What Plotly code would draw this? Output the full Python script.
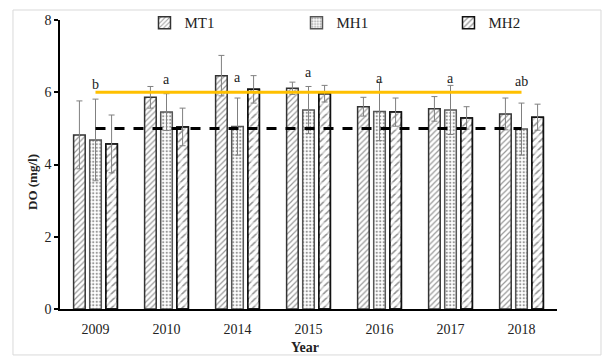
import plotly.graph_objects as go

# Dissolved oxygen by year and site
years = ["2009", "2010", "2014", "2015", "2016", "2017", "2018"]
mt1 = [4.82, 5.86, 6.46, 6.11, 5.60, 5.54, 5.40]
mt1_err = [0.94, 0.30, 0.56, 0.17, 0.26, 0.34, 0.44]
mh1 = [4.68, 5.45, 5.05, 5.51, 5.47, 5.51, 4.98]
mh1_err = [1.13, 0.51, 0.79, 0.65, 0.81, 0.68, 0.72]
mh2 = [4.57, 5.04, 6.08, 5.96, 5.45, 5.29, 5.31]
mh2_err = [0.80, 0.52, 0.38, 0.23, 0.39, 0.31, 0.36]

# Significance letters and where they sit (mg/l)
letters = ["b", "a", "a", "a", "a", "a", "ab"]
letter_y = [6.22, 6.34, 6.40, 6.54, 6.37, 6.37, 6.29]

standard_upper = 6
standard_lower = 5

SERIF = "Liberation Serif"
CLEAR = "rgba(0,0,0,0)"
ERR = dict(type="data", visible=True, color="#808080", thickness=1, width=3)

fig = go.Figure()

# MT1: dense forward hatching
fig.add_trace(go.Bar(
    name="MT1", x=years, y=mt1, offsetgroup="mt1",
    marker=dict(color="white",
                pattern=dict(shape="/", size=4, solidity=0.3, fgcolor="#333333", bgcolor="white"),
                line=dict(color="#333333", width=1.5)),
    error_y=dict(array=mt1_err, **ERR),
))

# MH1: fine dots
fig.add_trace(go.Bar(
    name="MH1", x=years, y=mh1, offsetgroup="mh1",
    marker=dict(color="white",
                pattern=dict(shape=".", size=3.5, solidity=0.35, fgcolor="#333333", bgcolor="white"),
                line=dict(color="#555555", width=1.5)),
    error_y=dict(array=mh1_err, **ERR),
))

# MH2: hatching broken into short dashes by white horizontal bands,
# then the outline and error bars on top
fig.add_trace(go.Bar(
    name="MH2", x=years, y=mh2, offsetgroup="mh2",
    marker=dict(color="white",
                pattern=dict(shape="/", size=5, solidity=0.3, fgcolor="#222222", bgcolor="white"),
                line=dict(color="#111111", width=1.5)),
))
fig.add_trace(go.Bar(
    name="MH2", x=years, y=mh2, offsetgroup="mh2", showlegend=False, hoverinfo="skip",
    marker=dict(color=CLEAR,
                pattern=dict(shape="-", size=8, solidity=0.45, fgcolor="white", bgcolor=CLEAR),
                line=dict(width=0)),
))
fig.add_trace(go.Bar(
    name="MH2", x=years, y=mh2, offsetgroup="mh2", showlegend=False,
    marker=dict(color=CLEAR, line=dict(color="#111111", width=1.5)),
    error_y=dict(array=mh2_err, **ERR),
))

fig.add_trace(go.Scatter(
    x=years, y=[standard_upper] * len(years), mode="lines",
    line=dict(color="#FFC000", width=3), showlegend=False, hoverinfo="skip"))
fig.add_trace(go.Scatter(
    x=years, y=[standard_lower] * len(years), mode="lines",
    line=dict(color="black", width=3, dash="10px,9px"), showlegend=False, hoverinfo="skip"))

# Category axis: annotations are placed by category index
for i, (txt, ly) in enumerate(zip(letters, letter_y)):
    fig.add_annotation(x=i, y=ly, text=txt, showarrow=False,
                       font=dict(family=SERIF, size=14, color="#222222"))

# Axis titles
fig.add_annotation(xref="paper", yref="paper", x=-0.054, y=0.44, text="<b>DO (mg/l)</b>",
                   textangle=-90, showarrow=False, xanchor="center", yanchor="middle",
                   font=dict(family=SERIF, size=13, color="#222222"))
fig.add_annotation(xref="paper", yref="paper", x=0.493, y=-0.1315, text="<b>Year</b>",
                   showarrow=False, xanchor="center", yanchor="middle",
                   font=dict(family=SERIF, size=14, color="#222222"))

# Light frame around the whole chart
fig.add_shape(type="rect", xref="paper", yref="paper",
              x0=-0.0946, x1=1.0885, y0=-0.159, y1=1.0346,
              line=dict(color="#d9d9d9", width=1), fillcolor=CLEAR, layer="below")

fig.update_layout(
    width=605, height=357,
    margin=dict(l=60, r=48, t=20, b=48, autoexpand=False),
    paper_bgcolor="white", plot_bgcolor="white",
    barmode="group", bargap=0.32, bargroupgap=0.28,
    font=dict(family=SERIF, size=14, color="#222222"),
    showlegend=True,
    legend=dict(orientation="h", x=0.170, xanchor="left", y=0.99, yanchor="middle",
                font=dict(family=SERIF, size=15, color="#222222"),
                entrywidth=107, bgcolor=CLEAR),
    xaxis=dict(type="category", range=[-0.5, 6.5], showline=True, linecolor="black",
               linewidth=1.5, ticks="", ticklabelstandoff=6,
               tickfont=dict(family=SERIF, size=14)),
    yaxis=dict(range=[0, 8], tickvals=[0, 2, 4, 6, 8], showgrid=False, zeroline=False,
               showline=True, linecolor="black", linewidth=1.5,
               ticks="outside", ticklen=4, tickcolor="black", tickwidth=1.5,
               tickfont=dict(family=SERIF, size=14)),
)

fig.write_html("out.html")
